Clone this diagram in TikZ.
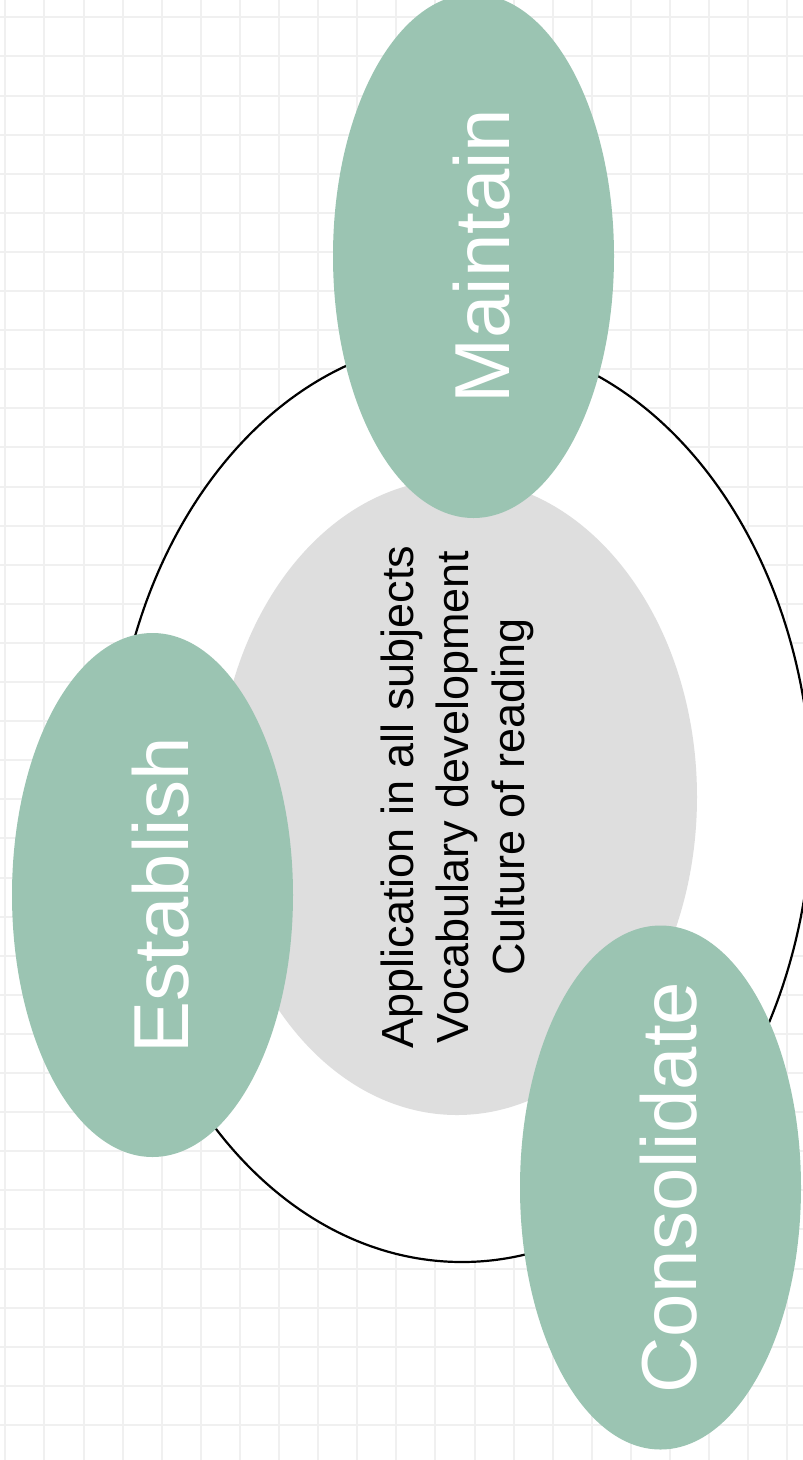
\documentclass[tikz,border=0pt]{standalone}
\usepackage{fontspec}
\setmainfont{Liberation Sans}
\usetikzlibrary{shapes.geometric}
\definecolor{sage}{HTML}{9BC4B2}
\definecolor{coregray}{HTML}{DEDEDE}
\definecolor{gridgray}{HTML}{F0F0F0}
\begin{document}
\begin{tikzpicture}[x=1pt,y=-1pt,
	gridline/.style={gridgray,line width=2pt},
	ring/.style={ellipse,draw=black,line width=2.2pt,fill=white,inner sep=0pt,minimum width=700pt,minimum height=922pt},
	core/.style={ellipse,fill=coregray,inner sep=0pt,minimum width=480pt,minimum height=636pt},
	coretext/.style={rotate=90,inner sep=0pt,align=center,font=\fontsize{45}{55.5}\selectfont},
	blob/.style={ellipse,fill=sage,inner sep=0pt,minimum width=281pt,minimum height=524pt},
	blobtext/.style={rotate=90,inner sep=0pt,text=white,font=\fontsize{78}{94}\selectfont,text height=72pt,text depth=0pt}]
	\useasboundingbox (0,0) rectangle (803,1460);
	\clip (0,0) rectangle (803,1460);
	% Raster
	\foreach \i in {0,...,20}
		\draw[gridline] (5.3+39.1*\i,0) -- (5.3+39.1*\i,1460);
	\foreach \j in {0,...,37}
		\draw[gridline] (0,17.3+39.1*\j) -- (803,17.3+39.1*\j);
	% Ring und Kern
	\node[ring] (ring) at (462,801) {};
	\node[core] (core) at (457,797) {};
	\node[coretext] (core-text) at (core.center) {Application in all subjects\\Vocabulary development\\Culture of reading};
	% Phasen
	\node[blob] (maintain) at (473.5,256) {};
	\node[blob] (establish) at (152.5,895) {};
	\node[blob] (consolidate) at (660.5,1187.5) {};
	\node[blobtext] (maintain-text) at (maintain.center) {Maintain};
	\node[blobtext] (establish-text) at (establish.center) {Establish};
	\node[blobtext] (consolidate-text) at (consolidate.center) {Consolidate};
\end{tikzpicture}
\end{document}
